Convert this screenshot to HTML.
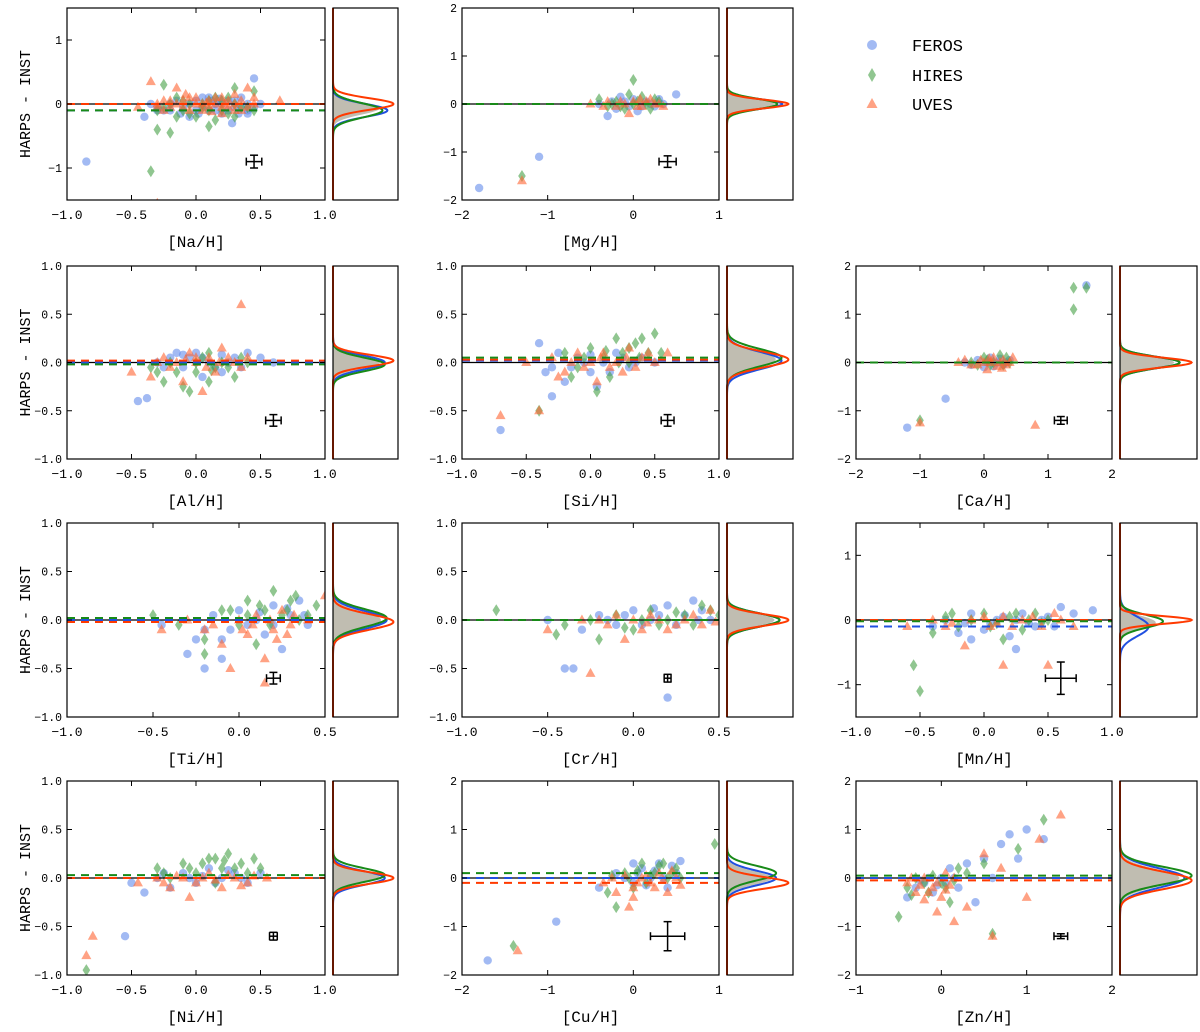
<!DOCTYPE html>
<html><head><meta charset="utf-8"><style>
html,body{margin:0;padding:0;background:#fff}
svg text{font-family:"Liberation Mono",monospace;fill:#000}
</style></head><body>
<svg id="fig" width="1200" height="1027" viewBox="0 0 1200 1027" xmlns="http://www.w3.org/2000/svg"></svg>
<script>
// ---- data: [x,y] pairs per instrument ----
const na_feros=[[-0.85,-0.9],[-0.4,-0.2],[-0.3,-0.1],[-0.2,0.0],[-0.1,-0.05],[0,0.05],[0.1,-0.1],[0.15,0.0],[0.2,-0.15],[0.25,0.05],[0.3,-0.05],[0.35,0.1],[0.4,-0.1],[0.45,0.4],[0.5,0.0],[0.28,-0.3],[-0.05,-0.2],[0.05,0.1],[0.4,-0.15],[0.45,-0.05],[-0.25,-0.1],[0.12,0.05],
 [-0.3,-0.05],[-0.2,-0.1],[-0.15,0.05],[-0.05,0.0],[0,-0.1],[0.05,-0.05],[0.1,0.1],[0.15,-0.1],[0.2,0.0],[0.25,-0.1],[0.3,0.05],[0.35,-0.05],[0.4,0.0],[0.02,-0.15],[0.18,0.08],[-0.12,-0.15],[0.33,-0.15],[-0.35,0.0]];
const na_hires=[[-0.35,-1.05],[-0.3,-0.4],[-0.25,-0.05],[-0.2,-0.45],[-0.15,0.1],[-0.1,-0.1],[0,-0.2],[0.05,-0.05],[0.1,0.05],[0.15,-0.25],[0.2,-0.1],[0.25,0.1],[0.3,-0.2],[0.35,-0.05],[0.45,0.2],[0.45,-0.1],[-0.25,0.3],[0.1,-0.35],[0.3,0.25],[-0.05,0.0],
 [-0.3,-0.1],[-0.2,0.0],[-0.1,0.05],[-0.05,-0.15],[0.05,0.0],[0.1,-0.1],[0.2,0.05],[0.25,-0.15],[0.3,0.0],[0.4,-0.05],[-0.15,-0.2],[0.15,0.1]];
const na_uves=[[-0.45,-0.05],[-0.35,0.35],[-0.3,0.0],[-0.25,-0.1],[-0.2,0.05],[-0.1,-0.05],[-0.05,0.1],[0,0],[0.05,-0.1],[0.1,0.05],[0.15,0.0],[0.2,0.1],[0.25,-0.05],[0.3,0.0],[0.35,-0.1],[0.4,0.25],[0.45,0.0],[0.3,0.15],[-0.15,0.25],[0.2,-0.15],[0.65,0.05],[-0.3,-1.55],
 [-0.3,-0.05],[-0.25,0.05],[-0.2,-0.05],[-0.15,0.0],[-0.1,0.05],[-0.05,-0.1],[0,0.1],[0.05,0.0],[0.1,-0.05],[0.15,0.1],[0.2,-0.05],[0.25,0.05],[0.3,-0.1],[0.35,0.05],[0.4,-0.05],[0.45,0.1],[0.12,-0.12],[-0.08,0.15],[0.22,0.0],[0.08,0.02]];
const mg_feros=[[-1.8,-1.75],[-1.1,-1.1],[-0.3,-0.25],[0.5,0.2],[-0.4,0.0],[-0.2,-0.1],[-0.1,0.05],[0,0.1],[0.1,-0.05],[0.2,0.0],[0.3,0.1],[0.05,-0.15],[-0.15,0.15],[-0.05,-0.05],[0.15,0.05],[0.25,-0.05],[-0.25,0.05],[0.35,0.0]];
const mg_hires=[[-1.3,-1.5],[0,0.5],[-0.4,0.1],[-0.3,-0.05],[-0.2,0.05],[-0.1,-0.1],[0,0.0],[0.1,0.15],[0.2,-0.1],[0.3,0.05],[-0.05,0.2],[0.15,0.0],[-0.15,-0.05],[0.05,0.05],[0.25,0.1],[-0.25,0.0]];
const mg_uves=[[-1.3,-1.6],[-0.5,0.0],[-0.3,0.05],[-0.2,-0.05],[-0.1,0.0],[0,0.05],[0.1,-0.05],[0.2,0.1],[0.3,0.0],[0.35,-0.05],[-0.05,-0.2],[0.15,0.05],[-0.15,0.05],[0.05,-0.05],[0.25,0.0],[-0.35,-0.05],[0.08,0.1]];
const al_feros=[[-0.45,-0.4],[-0.38,-0.37],[0.5,0.05],[0.6,0.0],[-0.3,0.0],[-0.2,0.05],[-0.1,-0.05],[0,0.1],[0.1,0.0],[0.2,-0.1],[0.3,0.05],[0.4,0.1],[0.05,-0.15],[-0.15,0.1],[0.25,0.0],
 [-0.25,-0.05],[-0.05,0.05],[0.05,0.05],[0.15,-0.05],[0.35,-0.05],[0.2,0.08],[-0.1,0.08]];
const al_hires=[[-0.3,-0.1],[-0.25,-0.2],[-0.2,0.0],[-0.1,-0.25],[0,-0.1],[0.05,0.05],[0.1,-0.2],[0.15,-0.05],[0.2,0.0],[0.3,-0.15],[0.35,0.05],[-0.05,-0.3],[0.1,0.1],
 [-0.15,-0.1],[0.0,0.0],[0.25,-0.05],[0.4,0.0],[-0.35,-0.05],[0.12,-0.08]];
const al_uves=[[0.35,0.6],[-0.5,-0.1],[-0.35,-0.15],[-0.25,0.05],[-0.15,0.0],[-0.05,0.1],[0,0.0],[0.1,0.05],[0.15,-0.1],[0.2,0.15],[0.3,0.0],[0.4,0.05],[-0.1,-0.2],[0.05,-0.3],
 [-0.3,0.0],[-0.2,-0.05],[0.0,0.05],[0.08,-0.05],[0.25,0.05],[0.35,-0.05],[0.18,0.0],[-0.08,0.03]];
const si_feros=[[-0.7,-0.7],[-0.3,-0.35],[-0.4,0.2],[-0.35,-0.1],[-0.2,-0.2],[-0.1,0.05],[0,-0.1],[0.1,0.0],[0.2,0.1],[0.3,-0.05],[0.4,0.05],[0.5,0.0],[-0.25,0.1],[0.05,-0.25],
 [-0.15,-0.05],[-0.05,0.0],[0.15,-0.1],[0.25,0.05],[0.35,0.0],[-0.3,-0.05],[0.0,0.08]];
const si_hires=[[-0.4,-0.5],[-0.2,0.1],[-0.1,-0.05],[0,0.15],[0.05,-0.3],[0.1,0.05],[0.2,0.25],[0.25,0.1],[0.3,0.0],[0.35,0.2],[0.4,0.25],[0.5,0.3],[0.55,0.1],[0.15,-0.15],
 [-0.05,0.05],[0.12,0.12],[0.22,0.0],[0.3,0.15],[0.45,0.1],[0.38,0.05],[-0.15,-0.15]];
const si_uves=[[-0.7,-0.55],[-0.4,-0.5],[-0.5,0.0],[-0.3,0.05],[-0.2,-0.1],[-0.1,0.1],[0,0.0],[0.05,-0.2],[0.1,0.1],[0.2,0.0],[0.25,-0.1],[0.3,0.15],[0.4,0.05],[0.5,0.0],[0.6,0.1],
 [-0.15,0.0],[-0.05,-0.05],[0.08,0.05],[0.15,-0.05],[0.28,0.05],[0.35,-0.05],[0.45,0.1],[-0.25,-0.15]];
const ca_feros=[[-1.2,-1.35],[-0.6,-0.75],[1.6,1.6],[-0.3,0.0],[-0.1,0.05],[0,-0.1],[0.1,0.1],[0.2,0.0],[0.3,-0.05],[0.4,0.05],[-0.2,-0.05],[0.05,0.0],[0.15,-0.08],[0.25,0.08],[0.35,0.0]];
const ca_hires=[[1.4,1.55],[1.4,1.1],[1.6,1.55],[-1,-1.2],[-0.2,0.0],[0,0.1],[0.1,-0.05],[0.25,0.15],[0.4,0.0],[0.05,0.05],[0.15,0.0],[0.3,-0.05],[-0.1,-0.05],[0.35,0.1]];
const ca_uves=[[0.8,-1.3],[-1,-1.25],[-0.4,0.0],[-0.2,-0.05],[-0.05,0.05],[0.05,-0.15],[0.15,0.1],[0.25,0.0],[0.35,-0.05],[0.45,0.1],[0.1,0.0],[0.3,0.05],[-0.1,-0.05],[0.0,0.0],[0.2,-0.08],[0.4,0.0],[0.08,0.08],[-0.3,0.05],[0.28,-0.12]];
const ti_feros=[[-0.3,-0.35],[-0.2,-0.5],[-0.1,-0.4],[-0.25,-0.2],[-0.15,0.05],[-0.05,-0.1],[0,0.1],[0.1,0.0],[0.15,-0.15],[0.2,0.15],[0.3,0.05],[0.35,0.2],[0.4,-0.05],[0.25,-0.3],[-0.45,-0.05],
 [-0.1,-0.2],[0.05,-0.05],[0.2,-0.05],[0.28,0.12],[0.12,0.08],[-0.2,-0.1],[0.38,0.05]];
const ti_hires=[[-0.5,0.05],[-0.35,-0.05],[-0.2,-0.2],[-0.1,0.1],[0,-0.05],[0.05,0.2],[0.15,0.1],[0.2,0.3],[0.25,0.05],[0.3,0.2],[0.35,0.0],[0.45,0.15],[-0.2,-0.35],[0.1,-0.25],
 [0.05,0.05],[0.18,-0.05],[0.28,0.1],[0.4,0.05],[-0.05,0.1],[0.12,0.15],[0.33,0.25]];
const ti_uves=[[-0.45,-0.1],[-0.3,0.0],[-0.2,-0.1],[-0.1,-0.25],[0,0.0],[0.05,-0.15],[0.1,0.05],[0.15,-0.4],[0.2,-0.1],[0.25,0.1],[0.3,-0.05],[0.4,0.0],[0.5,0.25],[0.15,-0.65],[-0.05,-0.5],
 [0.08,-0.05],[0.18,0.0],[0.22,-0.2],[0.32,0.05],[-0.15,-0.05],[0.02,-0.1],[0.28,-0.15]];
const cr_feros=[[-0.4,-0.5],[-0.35,-0.5],[0.2,-0.8],[-0.5,0.0],[-0.3,-0.1],[-0.2,0.05],[-0.1,-0.05],[0,0.1],[0.1,0.0],[0.2,0.15],[0.3,0.05],[0.4,0.1],[0.45,0.0],[0.35,0.2],
 [-0.15,0.0],[0.05,-0.05],[0.15,0.05],[0.25,-0.05],[0.38,0.0],[0.12,0.12],[-0.05,0.05]];
const cr_hires=[[-0.8,0.1],[-0.4,-0.05],[-0.2,-0.2],[-0.1,0.05],[0,-0.1],[0.1,0.1],[0.2,0.0],[0.3,0.05],[0.4,0.15],[0.5,0.05],[-0.45,-0.15],
 [-0.25,0.0],[0.05,0.0],[0.15,-0.05],[0.25,0.08],[0.35,-0.05],[0.45,0.1],[-0.05,-0.08]];
const cr_uves=[[-0.25,-0.55],[-0.5,-0.1],[-0.3,0.0],[-0.15,-0.05],[0,0.0],[0.05,-0.1],[0.1,0.05],[0.2,-0.1],[0.3,0.0],[0.4,-0.05],[0.45,0.1],[-0.05,-0.2],
 [-0.2,0.0],[0.08,-0.03],[0.15,0.0],[0.25,-0.05],[0.35,0.05],[0.48,-0.02],[-0.1,0.05]];
const mn_feros=[[-0.4,-0.1],[-0.3,0.0],[-0.2,-0.2],[-0.1,0.1],[0,-0.15],[0.1,0.0],[0.2,-0.25],[0.3,0.1],[0.4,-0.1],[0.5,0.05],[0.6,0.2],[0.7,0.1],[0.85,0.15],[0.25,-0.45],[-0.1,-0.3],
 [-0.15,-0.05],[0.05,-0.05],[0.15,0.05],[0.35,-0.05],[0.45,0.0],[0.55,-0.1],[0.25,0.0]];
const mn_hires=[[-0.5,-1.1],[-0.55,-0.7],[-0.4,-0.2],[-0.3,0.05],[-0.2,-0.1],[0,0.1],[0.1,-0.05],[0.2,0.05],[0.3,-0.15],[0.4,0.1],[0.5,0.0],[0.15,-0.3],
 [-0.1,0.0],[0.05,-0.1],[0.25,0.1],[0.35,0.0],[0.45,-0.05],[-0.25,0.1]];
const mn_uves=[[0.15,-0.7],[0.5,-0.7],[-0.6,-0.1],[-0.4,0.0],[-0.25,-0.05],[-0.1,0.0],[0.05,-0.1],[0.15,0.05],[0.3,0.0],[0.45,-0.1],[0.55,0.1],[0.7,-0.1],[-0.15,-0.4],
 [-0.3,-0.1],[0.0,0.05],[0.1,-0.05],[0.22,-0.1],[0.38,0.05],[0.6,0.0]];
const ni_feros=[[-0.55,-0.6],[-0.5,-0.05],[-0.3,0.0],[-0.2,-0.1],[-0.1,0.05],[0,-0.05],[0.1,0.1],[0.2,0.0],[0.3,0.05],[0.4,-0.05],[0.5,0.05],[-0.4,-0.15],
 [-0.25,0.05],[-0.05,0.0],[0.05,0.02],[0.15,-0.05],[0.25,0.08],[0.35,0.0]];
const ni_hires=[[-0.85,-0.95],[-0.3,0.1],[-0.2,0.0],[-0.1,0.15],[0,0.05],[0.1,0.2],[0.2,0.1],[0.25,0.25],[0.35,0.15],[0.45,0.2],[0.5,0.1],[0.15,-0.05],
 [-0.25,0.05],[-0.05,0.1],[0.05,0.15],[0.15,0.2],[0.3,0.1],[0.4,0.05],[0.22,0.18]];
const ni_uves=[[-0.8,-0.6],[-0.85,-0.8],[-0.45,-0.05],[-0.3,0.0],[-0.2,-0.1],[-0.1,0.0],[0,-0.05],[0.1,0.05],[0.2,-0.1],[0.3,0.0],[0.4,-0.05],[0.55,0.0],[-0.05,-0.2],
 [-0.25,-0.05],[-0.15,0.02],[0.05,0.0],[0.15,-0.02],[0.25,0.03],[0.35,-0.08],[0.45,0.02]];
const cu_feros=[[-1.7,-1.7],[-0.9,-0.9],[-0.4,-0.2],[-0.2,0.1],[0,-0.1],[0.1,0.2],[0.2,0.0],[0.3,0.3],[0.4,-0.2],[0.5,0.1],[0.55,0.35],
 [-0.1,0.0],[0.05,0.1],[0.15,-0.15],[0.25,0.15],[0.35,0.0],[0.45,0.25],[0.0,0.3]];
const cu_hires=[[-1.4,-1.4],[0.95,0.7],[-0.3,-0.3],[-0.1,0.1],[0,-0.2],[0.1,0.3],[0.2,0.05],[0.3,0.25],[0.4,0.0],[0.5,0.2],[-0.2,-0.6],
 [-0.05,0.0],[0.05,0.15],[0.15,-0.1],[0.25,0.1],[0.35,0.3],[0.45,0.1],[0.55,0.0],[-0.25,0.05]];
const cu_uves=[[-1.35,-1.5],[-0.35,-0.1],[-0.2,-0.3],[-0.1,0.05],[0,-0.2],[0.1,0.0],[0.2,-0.1],[0.3,0.1],[0.4,-0.3],[0.5,0.0],[-0.05,-0.6],
 [-0.25,0.0],[0.05,-0.1],[0.15,0.05],[0.25,-0.2],[0.35,-0.05],[0.45,0.15],[0.0,-0.4],[0.55,-0.15]];
const zn_feros=[[-0.4,-0.4],[-0.2,-0.1],[-0.1,-0.3],[0,0.0],[0.1,0.2],[0.2,-0.2],[0.3,0.3],[0.5,0.4],[0.7,0.7],[0.8,0.9],[1.0,1.0],[1.2,0.8],[0.9,0.4],[0.4,-0.5],[0.6,0.0],
 [-0.3,-0.2],[-0.15,0.0],[-0.05,-0.15],[0.05,-0.1],[0.15,0.0],[-0.25,-0.05]];
const zn_hires=[[-0.5,-0.8],[-0.4,-0.2],[-0.3,0.0],[-0.15,-0.3],[0,-0.1],[0.1,-0.5],[0.3,0.1],[0.5,0.3],[0.9,0.6],[1.2,1.2],[0.6,-1.15],[0.2,0.2],
 [-0.2,-0.1],[-0.1,0.05],[0.05,-0.2],[0.15,-0.05],[-0.35,-0.35]];
const zn_uves=[[-0.4,-0.1],[-0.3,-0.3],[-0.2,0.0],[-0.1,-0.2],[0,-0.4],[0.05,0.1],[0.15,-0.9],[0.3,-0.6],[0.5,0.5],[0.7,0.2],[1.0,-0.4],[1.4,1.3],[1.15,0.8],[0.6,-1.2],[-0.05,-0.7],
 [-0.25,-0.15],[-0.15,-0.3],[-0.05,-0.1],[0.05,-0.25],[0.15,0.0],[-0.35,0.0],[0.1,-0.15],[-0.2,-0.45]];
// mean offsets (dashed lines) [FEROS, HIRES, UVES]
const na_off=[-0.1,-0.1,0.0], mg_off=[0,0,0], al_off=[0,-0.02,0.02], si_off=[0.02,0.05,0.03], ca_off=[0,0,0];
const ti_off=[0,0.02,-0.02], cr_off=[0,0,0], mn_off=[-0.1,-0.02,0], ni_off=[0,0.03,0], cu_off=[0,0.1,-0.1], zn_off=[0,0.05,-0.05];
// gaussian fit sigmas [FEROS, HIRES, UVES]
const na_sig=[0.1,0.11,0.09], mg_sig=[0.1,0.11,0.09], al_sig=[0.07,0.07,0.06], si_sig=[0.09,0.09,0.08], ca_sig=[0.12,0.12,0.1];
const ti_sig=[0.09,0.09,0.08], cr_sig=[0.07,0.07,0.06], mn_sig=[0.15,0.1,0.06], ni_sig=[0.07,0.07,0.06], cu_sig=[0.15,0.15,0.12], zn_sig=[0.2,0.18,0.18];
// error bars [x, y, xerr, yerr]
const na_err=[0.45,-0.9,0.06,0.1], mg_err=[0.4,-1.2,0.1,0.12], al_err=[0.6,-0.6,0.06,0.06], si_err=[0.6,-0.6,0.05,0.06], ca_err=[1.2,-1.2,0.1,0.08];
const ti_err=[0.2,-0.6,0.04,0.06], cr_err=[0.2,-0.6,0.02,0.04], mn_err=[0.6,-0.9,0.12,0.25], ni_err=[0.6,-0.6,0.03,0.04], cu_err=[0.4,-1.2,0.2,0.3], zn_err=[1.4,-1.2,0.08,0.05];

const COLX=[[67,325,333,398],[462,719,727,793],[856,1112,1120,1197]];
const ROWY=[[8,200],[266,459],[523,717],[781,975]];
const panels=[
 {r:0,c:0,lab:'[Na/H]',d:[na_feros,na_hires,na_uves],off:na_off,sig:na_sig,err:na_err,xr:[-1,1],yr:[-1.5,1.5],xt:[-1,-0.5,0,0.5,1],yt:[-1,0,1],fx:1,fy:0},
 {r:0,c:1,lab:'[Mg/H]',d:[mg_feros,mg_hires,mg_uves],off:mg_off,sig:mg_sig,err:mg_err,xr:[-2,1],yr:[-2,2],xt:[-2,-1,0,1],yt:[-2,-1,0,1,2],fx:0,fy:0},
 {r:1,c:0,lab:'[Al/H]',d:[al_feros,al_hires,al_uves],off:al_off,sig:al_sig,err:al_err,xr:[-1,1],yr:[-1,1],xt:[-1,-0.5,0,0.5,1],yt:[-1,-0.5,0,0.5,1],fx:1,fy:1},
 {r:1,c:1,lab:'[Si/H]',d:[si_feros,si_hires,si_uves],off:si_off,sig:si_sig,err:si_err,xr:[-1,1],yr:[-1,1],xt:[-1,-0.5,0,0.5,1],yt:[-1,-0.5,0,0.5,1],fx:1,fy:1},
 {r:1,c:2,lab:'[Ca/H]',d:[ca_feros,ca_hires,ca_uves],off:ca_off,sig:ca_sig,err:ca_err,xr:[-2,2],yr:[-2,2],xt:[-2,-1,0,1,2],yt:[-2,-1,0,1,2],fx:0,fy:0},
 {r:2,c:0,lab:'[Ti/H]',d:[ti_feros,ti_hires,ti_uves],off:ti_off,sig:ti_sig,err:ti_err,xr:[-1,0.5],yr:[-1,1],xt:[-1,-0.5,0,0.5],yt:[-1,-0.5,0,0.5,1],fx:1,fy:1},
 {r:2,c:1,lab:'[Cr/H]',d:[cr_feros,cr_hires,cr_uves],off:cr_off,sig:cr_sig,err:cr_err,xr:[-1,0.5],yr:[-1,1],xt:[-1,-0.5,0,0.5],yt:[-1,-0.5,0,0.5,1],fx:1,fy:1},
 {r:2,c:2,lab:'[Mn/H]',d:[mn_feros,mn_hires,mn_uves],off:mn_off,sig:mn_sig,err:mn_err,xr:[-1,1],yr:[-1.5,1.5],xt:[-1,-0.5,0,0.5,1],yt:[-1,0,1],fx:1,fy:0},
 {r:3,c:0,lab:'[Ni/H]',d:[ni_feros,ni_hires,ni_uves],off:ni_off,sig:ni_sig,err:ni_err,xr:[-1,1],yr:[-1,1],xt:[-1,-0.5,0,0.5,1],yt:[-1,-0.5,0,0.5,1],fx:1,fy:1},
 {r:3,c:1,lab:'[Cu/H]',d:[cu_feros,cu_hires,cu_uves],off:cu_off,sig:cu_sig,err:cu_err,xr:[-2,1],yr:[-2,2],xt:[-2,-1,0,1],yt:[-2,-1,0,1,2],fx:0,fy:0},
 {r:3,c:2,lab:'[Zn/H]',d:[zn_feros,zn_hires,zn_uves],off:zn_off,sig:zn_sig,err:zn_err,xr:[-1,2],yr:[-2,2],xt:[-1,0,1,2],yt:[-2,-1,0,1,2],fx:0,fy:0}
];
const FILL=['rgba(100,140,235,0.6)','rgba(70,160,70,0.6)','rgba(255,100,50,0.6)'];
const LINE=['#2050e0','#188a18','#ff3a00'];
const NS='http://www.w3.org/2000/svg';
const svg=document.getElementById('fig');
function mk(tag,attrs,parent){const e=document.createElementNS(NS,tag);for(const k in attrs)e.setAttribute(k,attrs[k]);(parent||svg).appendChild(e);return e;}
function fmt(v,f){const s=f?v.toFixed(1):String(Math.round(v));return s.replace('-','\u2212');}
panels.forEach(p=>{
 const [x0,x1,h0,h1]=COLX[p.c],[y0,y1]=ROWY[p.r];
 const sx=v=>x0+(v-p.xr[0])/(p.xr[1]-p.xr[0])*(x1-x0);
 const sy=v=>y1-(v-p.yr[0])/(p.yr[1]-p.yr[0])*(y1-y0);
 const g=mk('g',{});
 
 
 const cp=mk('clipPath',{id:'cp'+p.r+p.c},g);mk('rect',{x:x0,y:y0,width:x1-x0,height:y1-y0},cp);
 const pl=mk('g',{'clip-path':'url(#cp'+p.r+p.c+')'},g);
 [0,1,2].forEach(k=>{p.d[k].forEach(pt=>{const X=sx(pt[0]),Y=sy(pt[1]);let m;
   if(k===0)m=mk('circle',{cx:X,cy:Y,r:4.2,fill:FILL[0]},pl);
   else if(k===1)m=mk('polygon',{points:`${X},${Y-6} ${X+3.8},${Y} ${X},${Y+6} ${X-3.8},${Y}`,fill:FILL[1]},pl);
   else m=mk('polygon',{points:`${X},${Y-5.5} ${X+5},${Y+3.5} ${X-5},${Y+3.5}`,fill:FILL[2]},pl);
   
   });});
 mk('line',{x1:x0,x2:x1,y1:sy(0),y2:sy(0),stroke:'#000','stroke-width':1.3},pl);
 [0,2,1].forEach(k=>{const l=mk('line',{x1:x0,x2:x1,y1:sy(p.off[k]),y2:sy(p.off[k]),stroke:LINE[k],'stroke-width':2,'stroke-dasharray':'8,6'},pl);
   });
 const [ex,ey,exe,eye]=p.err;
 const eg=mk('g',{stroke:'#000','stroke-width':1.5},pl);
 
 mk('line',{x1:sx(ex-exe),x2:sx(ex+exe),y1:sy(ey),y2:sy(ey)},eg);
 mk('line',{x1:sx(ex),x2:sx(ex),y1:sy(ey-eye),y2:sy(ey+eye)},eg);
 mk('line',{x1:sx(ex-exe),x2:sx(ex-exe),y1:sy(ey)-4,y2:sy(ey)+4},eg);
 mk('line',{x1:sx(ex+exe),x2:sx(ex+exe),y1:sy(ey)-4,y2:sy(ey)+4},eg);
 mk('line',{x1:sx(ex)-4,x2:sx(ex)+4,y1:sy(ey-eye),y2:sy(ey-eye)},eg);
 mk('line',{x1:sx(ex)-4,x2:sx(ex)+4,y1:sy(ey+eye),y2:sy(ey+eye)},eg);
 mk('rect',{x:x0,y:y0,width:x1-x0,height:y1-y0,fill:'none',stroke:'#000','stroke-width':1.2},g);
 p.xt.forEach(v=>{const X=sx(v);mk('line',{x1:X,x2:X,y1:y1,y2:y1-5,stroke:'#000'},g);mk('line',{x1:X,x2:X,y1:y0,y2:y0+5,stroke:'#000'},g);
   const t=mk('text',{x:X,y:y1+19,'text-anchor':'middle','font-size':13},g);t.textContent=fmt(v,p.fx);});
 p.yt.forEach(v=>{const Y=sy(v);mk('line',{x1:x0,x2:x0+5,y1:Y,y2:Y,stroke:'#000'},g);mk('line',{x1:x1,x2:x1-5,y1:Y,y2:Y,stroke:'#000'},g);
   const t=mk('text',{x:x0-5,y:Y+4,'text-anchor':'end','font-size':11.5},g);t.textContent=fmt(v,p.fy);});
 const xl=mk('text',{x:(x0+x1)/2,y:y1+47,'text-anchor':'middle','font-size':16},g);xl.textContent=p.lab;
 
 if(p.c===0){const yl=mk('text',{x:0,y:0,'text-anchor':'middle','font-size':15,transform:`translate(30,${(y0+y1)/2}) rotate(-90)`},g);yl.textContent='HARPS - INST';
   }
 const hg=mk('g',{},g);
 
 const hw=h1-h0;
 const gauss=(m,s,amp)=>{let pts=[];for(let v=p.yr[0];v<=p.yr[1]+1e-9;v+=(p.yr[1]-p.yr[0])/300){const w=amp*Math.exp(-0.5*((v-m)/s)**2);pts.push([h0+w,sy(v)]);}return pts;};
 const sMin=Math.min(...p.sig);
 const gm=(p.off[0]+p.off[1]+p.off[2])/3, gs=(p.sig[0]+p.sig[1]+p.sig[2])/3;
 const gp=gauss(gm,gs,hw*0.8*sMin/gs);
 mk('polygon',{points:[[h0,y1],...gp,[h0,y0]].map(q=>q.join(',')).join(' '),fill:'rgba(150,145,125,0.6)'},hg);
 [0,1,2].forEach(k=>{const pts=gauss(p.off[k],p.sig[k],hw*0.93*sMin/p.sig[k]);
   mk('polyline',{points:pts.map(q=>q.join(',')).join(' '),fill:'none',stroke:LINE[k],'stroke-width':2},hg);});
 mk('rect',{x:h0,y:y0,width:hw,height:y1-y0,fill:'none',stroke:'#000','stroke-width':1.2},hg);
});
const lg=mk('g',{});

[['FEROS',45],['HIRES',75],['UVES',104]].forEach((e,k)=>{const X=872,Y=e[1];
 if(k===0)mk('circle',{cx:X,cy:Y,r:5,fill:FILL[0]},lg);
 else if(k===1)mk('polygon',{points:`${X},${Y-7} ${X+4},${Y} ${X},${Y+7} ${X-4},${Y}`,fill:FILL[1]},lg);
 else mk('polygon',{points:`${X},${Y-6} ${X+5.5},${Y+4} ${X-5.5},${Y+4}`,fill:FILL[2]},lg);
 const t=mk('text',{x:912,y:Y+6,'font-size':17},lg);t.textContent=e[0];
 });
</script>
</body></html>
